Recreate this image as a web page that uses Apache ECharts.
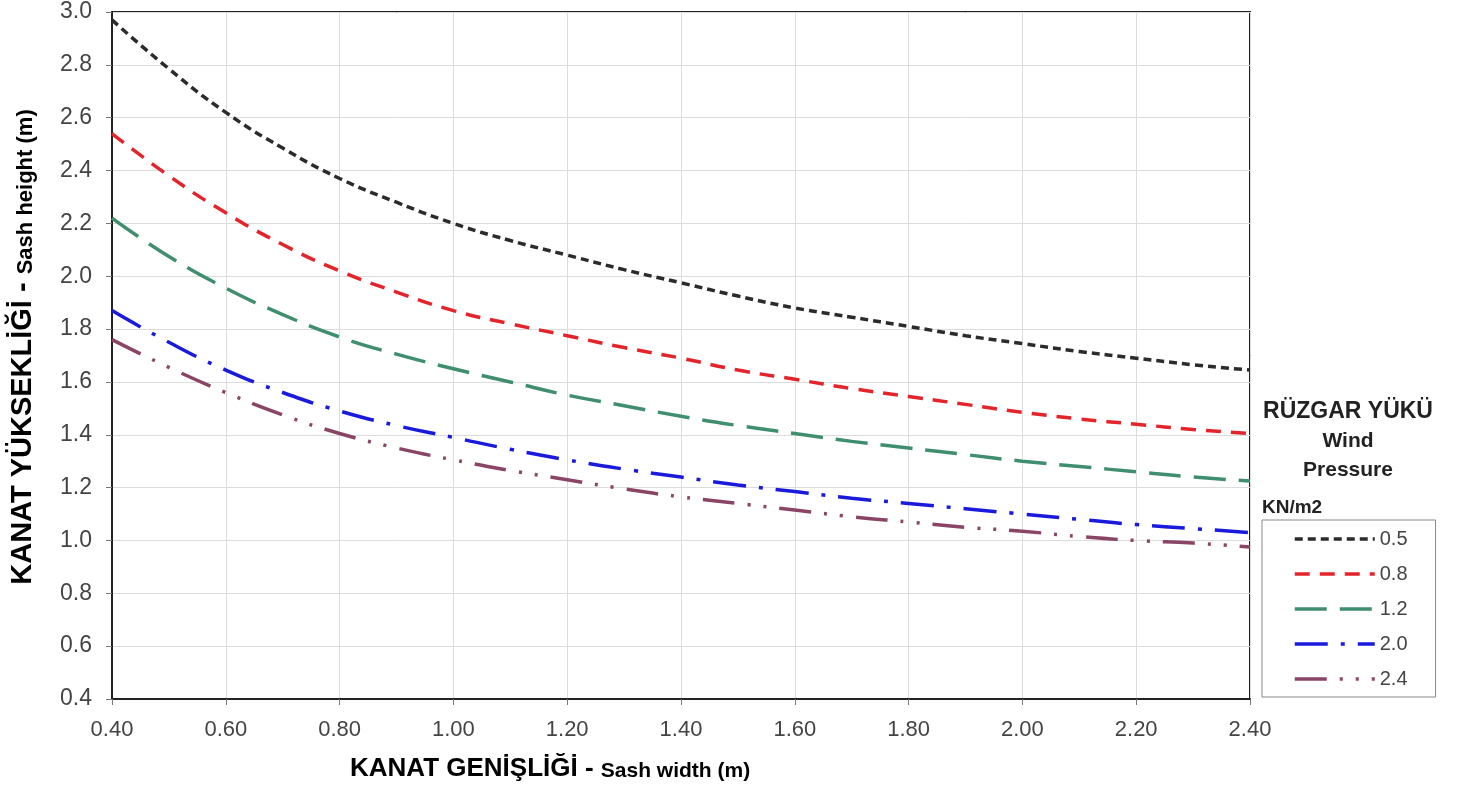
<!DOCTYPE html>
<html>
<head>
<meta charset="utf-8">
<script src="https://cdn.jsdelivr.net/npm/echarts@6/dist/echarts.min.js"></script>
<style>
  html, body { margin: 0; padding: 0; background: #fff; }
  #chart { width: 1470px; height: 790px; }
</style>
</head>
<body>
<div id="chart"></div>
<script>
// sash width (m)
const widths = [0.4, 0.5, 0.6, 0.7, 0.8, 0.9, 1.0, 1.1, 1.2, 1.3, 1.4, 1.5, 1.6, 1.7, 1.8, 1.9, 2.0, 2.1, 2.2, 2.3, 2.4]
// sash height (m) per wind pressure
const p05 = [2.97, 2.785, 2.62, 2.485, 2.37, 2.28, 2.20, 2.135, 2.08, 2.025, 1.975, 1.925, 1.88, 1.845, 1.81, 1.775, 1.745, 1.715, 1.69, 1.665, 1.645]
const p08 = [2.54, 2.38, 2.24, 2.12, 2.02, 1.94, 1.87, 1.82, 1.775, 1.73, 1.69, 1.645, 1.61, 1.575, 1.545, 1.515, 1.485, 1.46, 1.44, 1.42, 1.405]
const p12 = [2.22, 2.075, 1.955, 1.855, 1.77, 1.705, 1.65, 1.60, 1.55, 1.51, 1.47, 1.435, 1.405, 1.375, 1.35, 1.325, 1.30, 1.28, 1.26, 1.24, 1.225]
const p20 = [1.87, 1.75, 1.645, 1.56, 1.49, 1.435, 1.39, 1.345, 1.305, 1.27, 1.24, 1.21, 1.185, 1.16, 1.14, 1.12, 1.10, 1.08, 1.06, 1.045, 1.03]
const p24 = [1.76, 1.655, 1.56, 1.475, 1.405, 1.35, 1.305, 1.265, 1.23, 1.195, 1.165, 1.14, 1.115, 1.09, 1.07, 1.05, 1.035, 1.015, 1.0, 0.99, 0.975]
const pressureNames = ['0.5', '0.8', '1.2', '2.0', '2.4']

const font = 'Liberation Sans, Arial, sans-serif'

const styles = [
  { color: '#2b2b2b', dash: [8, 5] },
  { color: '#e3242b', dash: [15, 10] },
  { color: '#3f8f6f', dash: [32, 13] },
  { color: '#1a1adc', dash: [33, 13, 4, 13] },
  { color: '#8a4566', dash: [32, 13, 3, 13, 3, 13] }
]

const chart = echarts.init(document.getElementById('chart'))

const series = [p05, p08, p12, p20, p24].map((vals, i) => {
  return {
    name: pressureNames[i],
    type: 'line',
    symbol: 'none',
    smooth: true,
    itemStyle: { color: styles[i].color },
    lineStyle: {
      color: styles[i].color,
      width: 3.5,
      type: styles[i].dash,
      cap: 'butt'
    },
    data: widths.map((w, j) => [w, vals[j]])
  }
})

chart.setOption({
  backgroundColor: '#fff',
  animation: false,
  grid: {
    left: 112,
    right: 220,
    top: 12,
    bottom: 91,
    show: true,
    borderColor: '#222',
    borderWidth: 2
  },
  xAxis: {
    type: 'value',
    min: 0.4,
    max: 2.4,
    interval: 0.2,
    axisLine: { lineStyle: { color: '#222', width: 2 } },
    axisTick: { show: true, length: 6, lineStyle: { color: '#777' } },
    splitLine: { lineStyle: { color: '#dcdcdc', width: 1 } },
    axisLabel: {
      margin: 20,
      fontSize: 22,
      fontFamily: font,
      color: '#444',
      formatter: (v) => v.toFixed(2)
    }
  },
  yAxis: {
    type: 'value',
    min: 0.4,
    max: 3.0,
    interval: 0.2,
    axisLine: { show: true, lineStyle: { color: '#222', width: 2 } },
    axisTick: { show: true, length: 6, lineStyle: { color: '#777' } },
    splitLine: { lineStyle: { color: '#dcdcdc', width: 1 } },
    axisLabel: {
      margin: 20,
      fontSize: 23,
      fontFamily: font,
      color: '#444',
      formatter: (v) => v.toFixed(1)
    }
  },
  legend: {
    orient: 'vertical',
    left: 1262,
    top: 520,
    padding: [9, 28, 8, 31],
    borderColor: '#888',
    borderWidth: 1,
    itemWidth: 80,
    itemHeight: 14,
    itemGap: 15,
    itemStyle: { opacity: 0 },
    lineStyle: { width: 3.5 },
    textStyle: { fontSize: 20, lineHeight: 20, fontFamily: font, color: '#444' },
    data: pressureNames
  },
  graphic: [
    {
      type: 'text',
      x: 1348,
      y: 412,
      style: {
        text: 'RÜZGAR YÜKÜ',
        font: 'bold 23px ' + font,
        fill: '#222',
        textAlign: 'center',
        textVerticalAlign: 'middle'
      }
    },
    {
      type: 'text',
      x: 1348,
      y: 441,
      style: {
        text: 'Wind',
        font: 'bold 21px ' + font,
        fill: '#222',
        textAlign: 'center',
        textVerticalAlign: 'middle'
      }
    },
    {
      type: 'text',
      x: 1348,
      y: 470,
      style: {
        text: 'Pressure',
        font: 'bold 21px ' + font,
        fill: '#222',
        textAlign: 'center',
        textVerticalAlign: 'middle'
      }
    },
    {
      type: 'text',
      x: 1262,
      y: 508,
      style: {
        text: 'KN/m2',
        font: 'bold 19px ' + font,
        fill: '#222',
        textAlign: 'left',
        textVerticalAlign: 'middle'
      }
    },
    {
      type: 'text',
      x: 350,
      y: 768,
      style: {
        text: '{a|KANAT GENİŞLİĞİ - }{b|Sash width (m)}',
        rich: {
          a: { fontSize: 26, fontWeight: 'bold', fontFamily: font, color: '#222', lineHeight: 28, verticalAlign: 'bottom' },
          b: { fontSize: 21, fontWeight: 'bold', fontFamily: font, color: '#222', lineHeight: 26, verticalAlign: 'bottom' }
        },
        textAlign: 'left',
        textVerticalAlign: 'middle'
      }
    },
    {
      type: 'text',
      x: 21,
      y: 347,
      rotation: Math.PI / 2,
      style: {
        text: '{a|KANAT YÜKSEKLİĞİ - }{b|Sash height (m)}',
        rich: {
          a: { fontSize: 29, fontWeight: 'bold', fontFamily: font, color: '#222', lineHeight: 32, verticalAlign: 'bottom' },
          b: { fontSize: 22, fontWeight: 'bold', fontFamily: font, color: '#222', lineHeight: 28, verticalAlign: 'bottom' }
        },
        textAlign: 'center',
        textVerticalAlign: 'middle'
      }
    }
  ],
  series: series
})
</script>
</body>
</html>
